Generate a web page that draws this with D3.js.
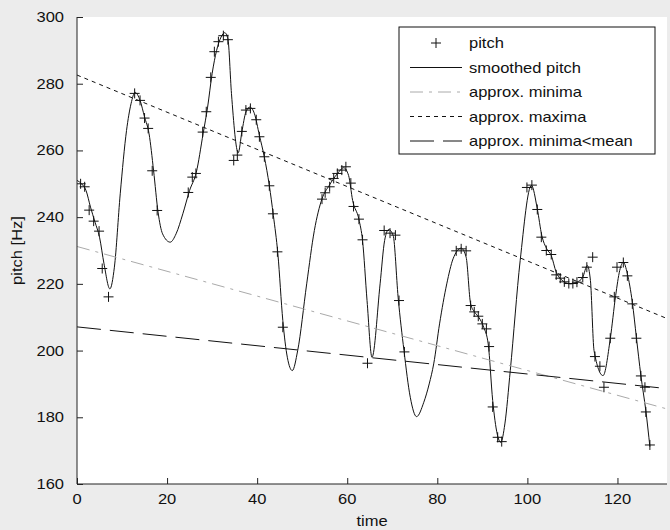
<!DOCTYPE html>
<html>
<head>
<meta charset="utf-8">
<script src="https://cdn.jsdelivr.net/npm/d3@7"></script>
<style>
  html, body { margin: 0; padding: 0; background: #ececec; }
  svg { display: block; }
  text { font-family: "Liberation Sans", Arial, sans-serif; fill: #111; }
</style>
</head>
<body>
<svg id="chart" width="670" height="530"></svg>
<script>
// Raw pitch estimates (time, Hz)
const pitchTime = [
  0.8, 1.7, 2.7, 3.7, 4.9, 5.6, 7.0,
  12.8, 14.0, 15.0, 15.8, 16.7, 17.8,
  24.7, 25.6, 26.4, 27.9, 28.7, 29.7, 30.5, 31.4, 32.5, 33.5,
  34.8, 35.6, 36.6, 37.5, 38.5, 39.8, 40.5, 41.6, 42.7, 43.5, 44.5, 45.7,
  54.4, 55.1, 56.1, 57.0, 57.8, 58.8, 59.7, 60.8, 61.4, 62.6, 63.4, 64.5,
  68.2, 69.5, 70.7, 71.5, 72.7,
  84.2, 85.3, 86.4, 87.4, 88.2, 89.1, 90.0, 90.9, 91.5, 92.3, 93.4, 94.3,
  99.9, 101.0, 102.2, 103.1, 104.2, 105.3, 106.4, 107.3, 108.2, 109.2, 110.1, 111.0,
  112.3, 113.2, 114.5,
  115.0, 116.1, 117.0, 118.4, 119.3, 119.9, 121.3, 122.2, 123.3, 124.2, 125.2, 126.1,
  126.3, 127.2
];
const pitchValue = [
  250.0, 249.1, 242.1, 238.8, 235.8, 224.6, 216.1,
  277.1, 275.0, 269.7, 266.6, 253.9, 242.0,
  247.4, 252.0, 253.1, 265.5, 271.6, 281.9, 289.6, 292.6, 294.4, 293.2,
  257.0, 258.6, 265.7, 272.1, 272.6, 269.2, 264.1, 258.1, 249.4, 241.0, 229.6, 207.0,
  245.4, 247.3, 249.1, 251.6, 253.1, 254.1, 255.1, 250.2, 243.2, 239.4, 233.2, 196.2,
  236.0, 235.2, 234.6, 215.0, 199.6,
  229.9, 230.5, 229.9, 213.5, 211.6, 210.3, 208.0, 206.5, 201.2, 183.1, 174.0, 172.7,
  248.9, 249.6, 242.3, 234.0, 230.0, 228.8, 222.7, 221.7, 220.6, 220.1, 220.1, 220.5,
  221.9, 225.0, 228.0,
  198.2, 195.3, 189.0, 203.7, 216.1, 225.0, 226.4, 222.4, 214.0, 203.7, 192.4, 189.0,
  181.6, 171.7
];

// Smoothed pitch contour (knots)
const smoothTime = [
  0, 1, 2, 3, 4, 5, 6, 7.3, 8.3, 9.6, 11, 12, 12.9, 14, 15, 16, 17, 18, 19, 20.7,
  22, 23.5, 25, 26.5, 28, 29, 30, 31, 32, 32.8, 33.5, 34.3, 35.8, 36.6, 37.5, 38.4,
  39.4, 40.5, 41.6, 42.7, 43.6, 44.6, 45.7, 46.7, 47.8, 49, 51, 52.7, 54.4, 56,
  57.8, 59.2, 60.3, 61.2, 62.6, 63.4, 64.4, 65.5, 67.3, 68.3, 69.2, 70.2, 71.3,
  72.6, 74, 75.4, 77, 78.2, 79.2, 80.5, 82.1, 83.5, 85.3, 86.4, 87.4, 88.3, 89.2, 90.3,
  91.3, 92.3, 93.3, 94.1, 95, 96.2, 98.4, 100.9, 102.2, 103.2, 104.3, 105.3, 106.4,
  107.5, 109.5, 111, 112.3, 113.3, 114, 114.8, 116.8, 118.4, 119.6, 120.5, 121.3,
  122.2, 123.3, 124.2, 125.2, 126.3, 127.2
];
const smoothValue = [
  251, 250, 248, 243, 238.5, 234, 226, 218.5, 225, 247, 266, 274, 277.4, 275, 270, 265,
  254, 241.5, 235, 232.5,
  235, 241, 248, 253.5, 265, 273, 283, 290, 294, 295.3, 293.5, 277, 259.3, 265.5, 271.5, 273,
  271, 264.5, 258, 249.5, 240.5, 229, 209, 198, 194, 200, 220, 236, 245.5, 249.5,
  253, 254.8, 252.5, 245, 239.3, 233, 215, 198, 220, 233, 236.3, 234.5, 216,
  200, 186, 180.2, 184.5, 190, 196, 208, 220, 227.5, 230.7, 228, 214, 211.5, 210, 207,
  202, 185, 175, 172.5, 178, 194, 227, 249.5, 242.5, 234.5, 230.5, 228.5, 223.5,
  221.3, 220, 220.5, 222, 225.5, 221, 200, 192.5, 203.5, 216.5, 224, 226.5,
  223, 214.5, 204, 192.5, 182, 171.2
];

// Linear trend lines, evaluated at both ends of the time axis
const trendTime = [0, 131];
const minimaTrend = [231.2, 182.5];
const maximaTrend = [282.6, 209.6];
const minimaBelowMeanTrend = [207.1, 188.6];

const xTicks = [0, 20, 40, 60, 80, 100, 120];
const yTicks = [160, 180, 200, 220, 240, 260, 280, 300];

const legendLabels = ["pitch", "smoothed pitch", "approx. minima", "approx. maxima", "approx. minima<mean"];

// ---- layout ----
const W = 670, H = 530;
const plot = { left: 77, top: 17, right: 667, bottom: 484 };
const textStretch = 1.18;

const svg = d3.select("#chart");
svg.append("rect").attr("width", W).attr("height", H).attr("fill", "#ececec");
svg.append("rect")
  .attr("x", plot.left).attr("y", plot.top)
  .attr("width", plot.right - plot.left).attr("height", plot.bottom - plot.top)
  .attr("fill", "#fff");

const x = d3.scaleLinear().domain([0, 131]).range([plot.left, plot.right]);
const y = d3.scaleLinear().domain([160, 300]).range([plot.bottom, plot.top]);

svg.append("clipPath").attr("id", "clip")
  .append("rect")
  .attr("x", plot.left).attr("y", plot.top)
  .attr("width", plot.right - plot.left).attr("height", plot.bottom - plot.top);

const g = svg.append("g").attr("clip-path", "url(#clip)");

function stretchedText(sel, px, py, str, anchor, size) {
  return sel.append("text")
    .attr("transform", `translate(${px},${py}) scale(${textStretch},1)`)
    .attr("text-anchor", anchor || "start")
    .attr("font-size", size || 14)
    .text(str);
}

// ---- marks ----
const plusSize = 5;
function plus(sel, cx, cy) {
  sel.append("path")
    .attr("d", `M${cx - plusSize},${cy}H${cx + plusSize}M${cx},${cy - plusSize}V${cy + plusSize}`)
    .attr("stroke", "#111").attr("stroke-width", 1).attr("fill", "none");
}

const pitchPts = pitchTime.map((t, i) => [t, pitchValue[i]]);
const markers = g.append("g");
pitchPts.forEach(p => plus(markers, x(p[0]), y(p[1])));

const smoothPts = smoothTime.map((t, i) => [t, smoothValue[i]]);
const smoothLine = d3.line().x(d => x(d[0])).y(d => y(d[1])).curve(d3.curveMonotoneX);
g.append("path").attr("d", smoothLine(smoothPts))
  .attr("fill", "none").attr("stroke", "#111").attr("stroke-width", 1);

const straight = d3.line().x(d => x(d[0])).y(d => y(d[1]));
function trend(vals, color, dash) {
  g.append("path")
    .attr("d", straight(trendTime.map((t, i) => [t, vals[i]])))
    .attr("fill", "none").attr("stroke", color).attr("stroke-width", 1)
    .attr("stroke-dasharray", dash);
}
const styles = {
  minima: { color: "#aaaaaa", dash: "13,6,3,6" },
  maxima: { color: "#111", dash: "4,4" },
  minimaMean: { color: "#111", dash: "24,9" }
};
trend(minimaTrend, styles.minima.color, styles.minima.dash);
trend(maximaTrend, styles.maxima.color, styles.maxima.dash);
trend(minimaBelowMeanTrend, styles.minimaMean.color, styles.minimaMean.dash);

// ---- axes ----
const axisColor = "#222";
const yAxis = svg.append("g").attr("transform", `translate(${plot.left},0)`)
  .call(d3.axisLeft(y).tickValues(yTicks).tickSize(-6).tickFormat(""));
const xAxis = svg.append("g").attr("transform", `translate(0,${plot.bottom})`)
  .call(d3.axisBottom(x).tickValues(xTicks).tickSize(-6).tickFormat(""));
[xAxis, yAxis].forEach(a => {
  a.select(".domain").attr("stroke", axisColor).attr("d", null);
  a.selectAll(".tick line").attr("stroke", axisColor);
});
svg.append("line").attr("x1", plot.left).attr("x2", plot.left)
  .attr("y1", plot.top).attr("y2", plot.bottom).attr("stroke", axisColor);
svg.append("line").attr("x1", plot.left).attr("x2", plot.right)
  .attr("y1", plot.bottom).attr("y2", plot.bottom).attr("stroke", axisColor);

yTicks.forEach(v => stretchedText(svg, plot.left - 13, y(v) + 5, String(v), "end", 14));
xTicks.forEach(v => stretchedText(svg, x(v), plot.bottom + 20, String(v), "middle", 14));

stretchedText(svg, (plot.left + plot.right) / 2, 526, "time", "middle", 14);
svg.append("text")
  .attr("transform", `translate(22,${(plot.top + plot.bottom) / 2}) rotate(-90) scale(${textStretch},1)`)
  .attr("text-anchor", "middle").attr("font-size", 14)
  .text("pitch [Hz]");

// ---- legend ----
const lg = { x: 399, y: 27, w: 256, h: 127 };
svg.append("rect").attr("x", lg.x).attr("y", lg.y).attr("width", lg.w).attr("height", lg.h)
  .attr("fill", "#fff").attr("stroke", "#111").attr("stroke-width", 1);
const rowY = i => 43 + i * 24.5;
const sampleX0 = 410, sampleX1 = 462, labelX = 469;
legendLabels.forEach((label, i) => {
  const cy = rowY(i);
  if (i === 0) {
    plus(svg, (sampleX0 + sampleX1) / 2, cy);
  } else {
    const st = [null, { color: "#111", dash: null }, styles.minima, styles.maxima, styles.minimaMean][i];
    svg.append("line").attr("x1", sampleX0).attr("x2", sampleX1).attr("y1", cy).attr("y2", cy)
      .attr("stroke", st.color).attr("stroke-width", 1).attr("stroke-dasharray", st.dash);
  }
  stretchedText(svg, labelX, cy + 5, label, "start", 14);
});
</script>
</body>
</html>
